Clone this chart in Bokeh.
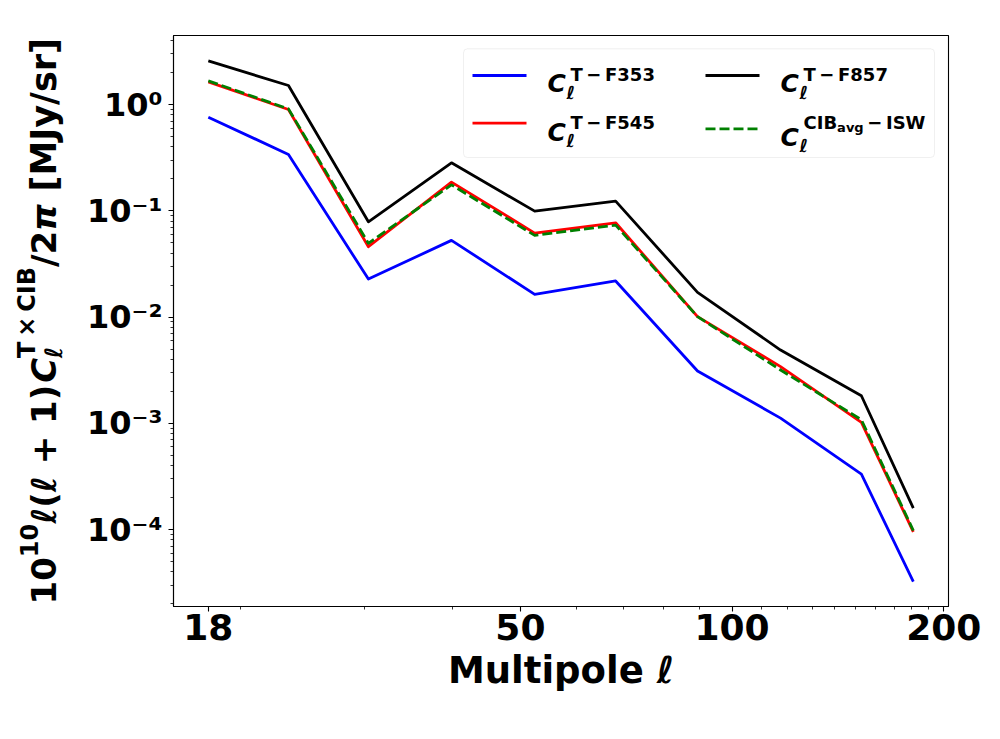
import math
from bokeh.plotting import figure
from bokeh.layouts import row
from bokeh.models import Range1d, FixedTicker, Label, BoxAnnotation, Arrow, ColumnDataSource
from bokeh.embed import file_html
from bokeh.resources import INLINE

# ---------------- data ----------------
ell = [18, 23.4, 30.4, 39.9, 52.4, 68.3, 89.3, 117.2, 152.7, 181.0]
f353 = [0.763, 0.340, 0.0228, 0.0528, 0.0164, 0.0219, 0.00311, 0.00112, 3.32e-4, 3.24e-5]
f545 = [1.638, 0.901, 0.0460, 0.1866, 0.0618, 0.0773, 0.0101, 0.00342, 0.00102, 9.52e-5]
f857 = [2.58, 1.516, 0.0790, 0.2835, 0.0996, 0.1237, 0.0171, 0.0049, 0.00182, 1.59e-4]
cib_isw = [1.675, 0.913, 0.0495, 0.176, 0.0588, 0.0735, 0.0101, 0.00318, 0.00108, 9.79e-5]

x_ticks = [18, 50, 100, 200]
x_tick_labels = ["18", "50", "100", "200"]
x_minor = [20, 30, 40, 60, 70, 80, 90, 110, 120, 130, 140, 150, 160, 170, 180, 190]
y_ticks = [1e-4, 1e-3, 1e-2, 1e-1, 1]
y_tick_labels = ["10\u207b\u2074", "10\u207b\u00b3", "10\u207b\u00b2", "10\u207b\u00b9", "10\u2070"]
x_lo, x_hi = 16.06, 203.1
y_lo, y_hi = 1.887e-5, 4.48
y_minor = [m * 10.0 ** e for e in range(-5, 1) for m in range(2, 10)]
y_minor = [v for v in y_minor if y_lo <= v <= y_hi]

FONT = "DejaVu Sans"
H = 723
LW = 76           # width of the strip holding the y-axis title
FRAME_L, FRAME_T, FRAME_W, FRAME_H = 173, 35, 775, 571
FL, FB = FRAME_L, FRAME_T + FRAME_H

p = figure(width=984 - LW, height=H, x_axis_type="log", y_axis_type="log",
           x_range=Range1d(x_lo, x_hi), y_range=Range1d(y_lo, y_hi),
           output_backend="svg", toolbar_location=None, title=None,
           min_border_left=FRAME_L - LW, min_border_right=984 - FRAME_L - FRAME_W,
           min_border_top=FRAME_T, min_border_bottom=H - FRAME_T - FRAME_H)
p.background_fill_color = "white"
p.border_fill_color = "white"
p.outline_line_color = "black"
p.outline_line_width = 1.1
p.xgrid.visible = False
p.ygrid.visible = False

src = ColumnDataSource(dict(ell=ell, f353=f353, f545=f545, f857=f857, cib=cib_isw))
p.line("ell", "f353", source=src, line_color="#0000ff", line_width=2.8, line_join="round")
p.line("ell", "f545", source=src, line_color="#ff0000", line_width=2.8, line_join="round")
p.line("ell", "f857", source=src, line_color="#000000", line_width=2.8, line_join="round")
p.line("ell", "cib", source=src, line_color="#008000", line_width=2.8, line_dash="10 4",
       line_join="round")

for ax in (p.xaxis[0], p.yaxis[0]):
    ax.axis_line_color = "black"
    ax.axis_line_width = 1.1
    ax.major_tick_line_color = "black"
    ax.major_tick_line_width = 1.1
    ax.minor_tick_line_color = "black"
    ax.minor_tick_line_width = 0.8
    ax.major_tick_out = 5
    ax.major_tick_in = 0
    ax.minor_tick_out = 3
    ax.minor_tick_in = 0
    ax.major_label_text_font = FONT
    ax.major_label_text_font_style = "bold"
    ax.major_label_text_color = "black"

p.xaxis.ticker = FixedTicker(ticks=x_ticks, minor_ticks=x_minor)
p.xaxis.major_label_overrides = dict(zip(x_ticks, x_tick_labels))
p.xaxis.major_label_text_font_size = "36px"
p.xaxis.major_label_standoff = 2
p.xaxis.axis_label = "Multipole \u2113"
p.xaxis.axis_label_text_font = FONT
p.xaxis.axis_label_text_font_style = "bold"
p.xaxis.axis_label_text_font_size = "37px"
p.xaxis.axis_label_text_color = "black"
p.xaxis.axis_label_standoff = 6

p.yaxis.ticker = FixedTicker(ticks=y_ticks, minor_ticks=y_minor)
p.yaxis.major_label_overrides = dict(zip(y_ticks, y_tick_labels))
p.yaxis.major_label_text_font_size = "32px"
p.yaxis.major_label_standoff = 6

# ---------------- text helpers ----------------
EM = {'0': .696, '1': .696, '2': .696, '3': .696, '4': .696, '5': .696, '6': .696,
      '7': .696, '8': .696, '9': .696, '(': .457, ')': .457, '+': .838, ' ': .348,
      '[': .457, ']': .457, 'M': .995, 'J': .372, 'y': .652, '/': .365, 's': .595,
      'r': .493, 'T': .682, 'C': .734, 'I': .372, 'B': .762, '\u00d7': .838,
      '\u2113': .5, '\u03c0': .8, '\u2212': .838, 'F': .575, 'a': .675, 'v': .652,
      'g': .716, 'S': .72, 'W': 1.03, '\u2009': .2}


def tw(s, size):
    return sum(EM.get(c, 0.65) for c in s) * size


def lab(fig, ox, oy, text, X, Y, size, style="bold", angle=0.0):
    fig.add_layout(Label(x=X - ox, y=oy - Y, x_units="screen", y_units="screen",
                         text=text, text_font=FONT, text_font_style=style,
                         text_font_size=f"{size}px", text_color="black",
                         text_align="left", text_baseline="alphabetic", angle=angle))


# ---------------- y axis title strip (composed, rotated) ----------------
# the strip's frame is aligned with the main frame (rows align frames)
q = figure(width=LW, height=H, x_range=Range1d(0, LW), y_range=Range1d(0, H),
           output_backend="svg", toolbar_location=None, title=None,
           x_axis_location=None, y_axis_location=None, min_border=0)
q.outline_line_color = None
q.background_fill_color = "white"
q.border_fill_color = "white"
q.xgrid.visible = False
q.ygrid.visible = False

ROT = math.pi / 2
base_x = 43.0
sup_x = base_x - 15
sub_x = base_x + 10
Y = 604.0
MAIN, SCR, TAIL = 34, 24, 35
ylabel_parts = [
    ("10", MAIN, "bold", base_x),
    ("10", SCR, "bold", sup_x),
    ("\u2113(\u2113 + 1)", MAIN, "bold", base_x),
    ("C", MAIN, "bold italic", base_x),
]
for txt, sz, st, bx in ylabel_parts:
    lab(q, 0, FB, txt, bx, Y, sz, st, ROT)
    Y -= tw(txt, sz)
lab(q, 0, FB, "\u2113", sub_x, Y, SCR, "bold italic", ROT)
sup = "T\u2009\u00d7\u2009CIB"
lab(q, 0, FB, sup, sup_x - 2, Y, SCR, "bold", ROT)
Y -= tw(sup, SCR)
lab(q, 0, FB, "/2", base_x, Y, MAIN, "bold", ROT)
Y -= tw("/2", MAIN)
lab(q, 0, FB, "\u03c0", base_x, Y, MAIN, "bold italic", ROT)
Y -= tw("\u03c0", MAIN) + tw(" ", TAIL)
lab(q, 0, FB, "[MJy/sr]", base_x, Y, TAIL, "bold", ROT)

# ---------------- legend (box, samples, math-like labels) ----------------
p.add_layout(BoxAnnotation(left=463 - FL, right=934 - FL, top=FB - 48.3, bottom=FB - 157,
                           left_units="screen", right_units="screen",
                           top_units="screen", bottom_units="screen",
                           fill_color="white", fill_alpha=0.8,
                           line_color="#cccccc", line_width=1, border_radius=4))

legend_entries = [
    # colour, dash, col x, line y, C baseline, sup baseline, sup text
    ("#0000ff", "solid", 472, 75.0, 83.3, 74.0, "T\u2009\u2212\u2009F353"),
    ("#ff0000", "solid", 472, 122.7, 131.7, 122.0, "T\u2009\u2212\u2009F545"),
    ("#000000", "solid", 705, 75.0, 83.3, 74.0, "T\u2009\u2212\u2009F857"),
    ("#008000", "10 4", 705, 128.3, 136.7, 121.7, None),
]
for col, dash, lx, ly, cb, sb, suptxt in legend_entries:
    p.add_layout(Arrow(end=None, x_start=lx - FL, y_start=FB - ly,
                       x_end=lx + 54 - FL, y_end=FB - ly,
                       start_units="screen", end_units="screen",
                       line_color=col, line_width=2.8, line_dash=dash))
    tx = lx + 75
    lab(p, FL, FB, "C", tx, cb, 25, "bold italic")
    lab(p, FL, FB, "\u2113", tx + 19, cb + 8.5, 18, "bold italic")
    if suptxt is not None:
        lab(p, FL, FB, suptxt, tx + 23, sb, 18, "bold")
    else:
        lab(p, FL, FB, "CIB", tx + 23, sb, 18, "bold")
        lab(p, FL, FB, "avg", tx + 23 + tw("CIB", 18), sb + 5.5, 13, "bold")
        lab(p, FL, FB, "\u2009\u2212\u2009ISW", tx + 23 + tw("CIB", 18) + tw("avg", 13), sb,
            18, "bold")

layout = row(q, p)
open("out.html", "w").write(file_html(layout, INLINE))
